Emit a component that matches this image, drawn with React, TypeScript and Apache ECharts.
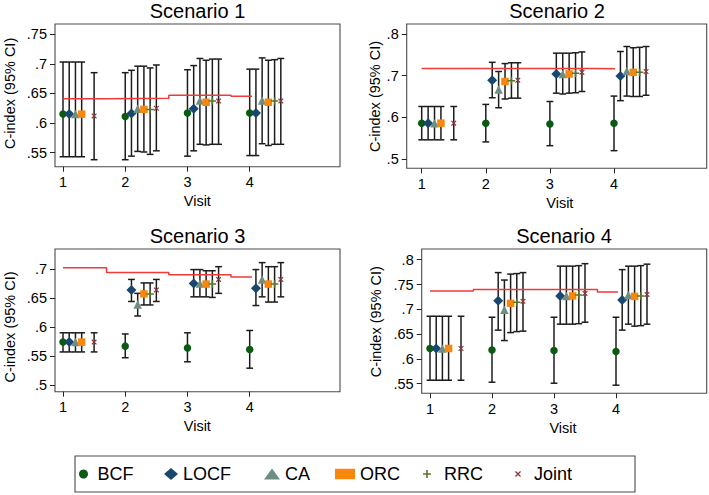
import React, { useEffect, useRef } from "react";
import * as echarts from "echarts";

const FONT = '"Liberation Sans", Arial, Helvetica, sans-serif';

const visits = [1, 2, 3, 4];
const methods = ["BCF", "LOCF", "CA", "ORC", "RRC", "Joint"];
const methodShift = [0, 0.1, 0.2, 0.3, 0.4, 0.5];
const titles = ["Scenario 1", "Scenario 2", "Scenario 3", "Scenario 4"];

// Scenario 1 (rows = methods, cols = visits)
const s1Est = [
  [0.615, 0.611, 0.617, 0.617],
  [0.615, 0.616, 0.624, 0.617],
  [0.615, 0.624, 0.638, 0.638],
  [0.615, 0.623, 0.635, 0.635],
  [null, 0.623, 0.637, 0.637],
  [0.612, 0.625, 0.637, 0.637],
];
const s1Lo = [
  [0.543, 0.538, 0.544, 0.545],
  [0.543, 0.544, 0.553, 0.545],
  [0.543, 0.552, 0.564, 0.565],
  [0.543, 0.551, 0.563, 0.562],
  [null, 0.547, 0.564, 0.564],
  [0.538, 0.553, 0.564, 0.564],
];
const s1Hi = [
  [0.703, 0.685, 0.690, 0.691],
  [0.703, 0.689, 0.697, 0.691],
  [0.703, 0.696, 0.709, 0.710],
  [0.703, 0.696, 0.706, 0.706],
  [null, 0.693, 0.708, 0.707],
  [0.685, 0.698, 0.708, 0.709],
];
const s1Ref = [0.641, 0.642, 0.647, 0.645];
const s1Ticks = [0.55, 0.6, 0.65, 0.7, 0.75];

// Scenario 2
const s2Est = [
  [0.586, 0.586, 0.584, 0.586],
  [0.586, 0.689, 0.704, 0.699],
  [0.586, 0.667, 0.704, 0.711],
  [0.586, 0.686, 0.704, 0.708],
  [null, 0.688, 0.706, 0.708],
  [0.586, 0.689, 0.708, 0.710],
];
const s2Lo = [
  [0.546, 0.541, 0.532, 0.520],
  [0.546, 0.647, 0.658, 0.640],
  [0.546, 0.623, 0.656, 0.651],
  [0.546, 0.644, 0.658, 0.650],
  [null, 0.646, 0.659, 0.650],
  [0.546, 0.646, 0.662, 0.653],
];
const s2Hi = [
  [0.626, 0.631, 0.638, 0.651],
  [0.626, 0.732, 0.754, 0.758],
  [0.626, 0.710, 0.754, 0.770],
  [0.626, 0.729, 0.754, 0.767],
  [null, 0.731, 0.755, 0.768],
  [0.626, 0.731, 0.757, 0.770],
];
const s2Ref = [0.717, 0.717, 0.717, 0.716];
const s2Ticks = [0.5, 0.6, 0.7, 0.8];

// Scenario 3
const s3Est = [
  [0.574, 0.567, 0.564, 0.561],
  [0.574, 0.664, 0.675, 0.667],
  [0.574, 0.639, 0.675, 0.682],
  [0.574, 0.657, 0.674, 0.674],
  [null, 0.657, 0.674, 0.674],
  [0.574, 0.664, 0.682, 0.682],
];
const s3Lo = [
  [0.557, 0.547, 0.540, 0.529],
  [0.557, 0.644, 0.652, 0.637],
  [0.557, 0.619, 0.652, 0.652],
  [0.557, 0.638, 0.652, 0.643],
  [null, 0.638, 0.651, 0.643],
  [0.557, 0.644, 0.658, 0.652],
];
const s3Hi = [
  [0.590, 0.588, 0.590, 0.594],
  [0.590, 0.682, 0.699, 0.699],
  [0.590, 0.658, 0.699, 0.711],
  [0.590, 0.676, 0.697, 0.704],
  [null, 0.676, 0.697, 0.704],
  [0.590, 0.682, 0.704, 0.711],
];
const s3Ref = [0.702, 0.694, 0.690, 0.686];
const s3Ticks = [0.5, 0.55, 0.6, 0.65, 0.7];

// Scenario 4
const s4Est = [
  [0.621, 0.618, 0.617, 0.615],
  [0.621, 0.717, 0.727, 0.719],
  [0.621, 0.699, 0.727, 0.729],
  [0.621, 0.712, 0.727, 0.726],
  [null, 0.714, 0.729, 0.727],
  [0.621, 0.716, 0.732, 0.730],
];
const s4Lo = [
  [0.557, 0.553, 0.551, 0.547],
  [0.557, 0.658, 0.670, 0.658],
  [0.557, 0.637, 0.670, 0.670],
  [0.557, 0.653, 0.670, 0.666],
  [null, 0.655, 0.671, 0.667],
  [0.557, 0.656, 0.674, 0.670],
];
const s4Hi = [
  [0.686, 0.684, 0.684, 0.684],
  [0.686, 0.774, 0.787, 0.780],
  [0.686, 0.759, 0.787, 0.787],
  [0.686, 0.771, 0.787, 0.787],
  [null, 0.772, 0.788, 0.788],
  [0.686, 0.774, 0.792, 0.791],
];
const s4Ref = [0.737, 0.740, 0.740, 0.735];
const s4Ticks = [0.55, 0.6, 0.65, 0.7, 0.75, 0.8];

const scenarios = [
  { est: s1Est, lo: s1Lo, hi: s1Hi, ref: s1Ref, ticks: s1Ticks },
  { est: s2Est, lo: s2Lo, hi: s2Hi, ref: s2Ref, ticks: s2Ticks },
  { est: s3Est, lo: s3Lo, hi: s3Hi, ref: s3Ref, ticks: s3Ticks },
  { est: s4Est, lo: s4Lo, hi: s4Hi, ref: s4Ref, ticks: s4Ticks },
];

// layout (pixels)
const layouts = [
  { frame: [55, 24, 340, 166.7], grid: [63, 34.2, 186.7, 118.4], titleX: 197.5, titleY: 11, yGap: 38, xShift: 41 },
  { frame: [406.7, 24, 706.7, 168.3], grid: [421.7, 34, 192.3, 125], titleX: 557, titleY: 11, yGap: 23, xShift: 42 },
  { frame: [55, 249, 340, 391.7], grid: [63, 269, 186.7, 116], titleX: 197.5, titleY: 236, yGap: 38, xShift: 41 },
  { frame: [421.7, 249, 706.7, 393.3], grid: [430, 259.7, 186, 124], titleX: 564, titleY: 236, yGap: 38, xShift: 40 },
];

const PLUS = "path://M4,0H6V4H10V6H6V10H4V6H0V4H4Z";
const CROSS =
  "path://M0,1.5L1.5,0L5,3.5L8.5,0L10,1.5L6.5,5L10,8.5L8.5,10L5,6.5L1.5,10L0,8.5L3.5,5Z";

const styles = [
  { color: "#0b5a14", symbol: "circle", size: 7.5, legendSize: 9, legendW: 18, legendX: 79 },
  { color: "#1a476f", symbol: "diamond", size: 10, legendSize: 12, legendW: 14, legendX: 164 },
  { color: "#6e8e84", symbol: "triangle", size: 8.5, legendSize: 11, legendW: 16, legendX: 264 },
  { color: "#f8870e", symbol: "rect", size: 7.5, legendSize: 10.5, legendW: 20, legendX: 335 },
  { color: "#55752f", symbol: PLUS, size: 7.5, legendSize: 8, legendW: 24, legendX: 423 },
  { color: "#90353b", symbol: CROSS, size: 5.5, legendSize: 6, legendW: 22, legendX: 515 },
];

const fmt = (v: number) => {
  const s = String(Number(v.toFixed(2)));
  return s.replace(/^0\./, ".");
};

function buildOption() {
  const grid: any[] = [];
  const xAxis: any[] = [];
  const yAxis: any[] = [];
  const series: any[] = [];
  const graphic: any[] = [];

  scenarios.forEach((sc, p) => {
    const L = layouts[p];
    const [gl, gt, gw, gh] = L.grid;
    const [fl, ft, fr, fb] = L.frame;
    grid.push({ left: gl, top: gt, width: gw, height: gh, containLabel: false });
    xAxis.push({
      type: "value",
      gridIndex: p,
      min: visits[0],
      max: visits[visits.length - 1],
      interval: 1,
      offset: fb - (gt + gh),
      axisLine: { show: false },
      axisTick: { show: true, length: 5, lineStyle: { color: "#222", width: 1 } },
      axisLabel: { fontSize: 14.5, color: "#000", fontFamily: FONT, margin: 8 },
      splitLine: { show: false },
      name: "Visit",
      nameLocation: "middle",
      nameGap: 27,
      nameTextStyle: {
        fontSize: 14.5,
        color: "#000",
        fontFamily: FONT,
        padding: [0, 0, 0, 2 * L.xShift],
      },
    });
    const t = sc.ticks;
    yAxis.push({
      type: "value",
      gridIndex: p,
      min: t[0],
      max: t[t.length - 1],
      interval: Number((t[1] - t[0]).toFixed(3)),
      offset: gl - fl,
      axisLine: { show: false },
      axisTick: { show: true, length: 5, lineStyle: { color: "#222", width: 1 } },
      axisLabel: { fontSize: 14.5, color: "#000", fontFamily: FONT, margin: 8, formatter: fmt },
      splitLine: { show: false },
      name: "C-index (95% CI)",
      nameLocation: "middle",
      nameRotate: 90,
      nameGap: L.yGap,
      nameTextStyle: { fontSize: 14.5, color: "#000", fontFamily: FONT },
    });

    // frame
    graphic.push({
      type: "rect",
      silent: true,
      z: 0,
      shape: { x: fl, y: ft, width: fr - fl, height: fb - ft },
      style: { fill: "#fff", stroke: "#4a4a4a", lineWidth: 1.1 },
    });
    graphic.push({
      type: "text",
      silent: true,
      x: L.titleX,
      y: L.titleY,
      style: {
        text: titles[p],
        fontSize: 20,
        fontFamily: FONT,
        fill: "#000",
        textAlign: "center",
        textVerticalAlign: "middle",
      },
    });

    // error bars
    const ciData: number[][] = [];
    methods.forEach((m, mi) => {
      visits.forEach((v, vi) => {
        const lo = sc.lo[mi][vi];
        const hi = sc.hi[mi][vi];
        if (lo == null || hi == null) return;
        ciData.push([v + methodShift[mi], lo, hi]);
      });
    });
    series.push({
      name: "ci" + p,
      type: "custom",
      xAxisIndex: p,
      yAxisIndex: p,
      clip: false,
      z: 2,
      silent: true,
      encode: { x: 0, y: [1, 2] },
      data: ciData,
      renderItem: (params: any, api: any) => {
        const x = api.value(0);
        const lo = api.value(1);
        const hi = api.value(2);
        const a = api.coord([x, lo]);
        const b = api.coord([x, hi]);
        const cw = 3.4;
        const st = { stroke: "#1c1c1c", lineWidth: 1.5 };
        return {
          type: "group",
          children: [
            { type: "line", shape: { x1: a[0], y1: a[1], x2: b[0], y2: b[1] }, style: st },
            { type: "line", shape: { x1: b[0] - cw, y1: b[1], x2: b[0] + cw, y2: b[1] }, style: st },
            { type: "line", shape: { x1: a[0] - cw, y1: a[1], x2: a[0] + cw, y2: a[1] }, style: st },
          ],
        };
      },
    });

    // reference step line
    const refData: number[][] = sc.ref.map((r, i) => [i === 0 ? visits[0] : visits[i - 1] + 0.7, r]);
    refData.push([visits[visits.length - 1] + 0.7, sc.ref[sc.ref.length - 1]]);
    series.push({
      name: "ref" + p,
      type: "line",
      xAxisIndex: p,
      yAxisIndex: p,
      step: "end",
      clip: false,
      z: 3,
      silent: true,
      showSymbol: false,
      symbol: "none",
      lineStyle: { color: "#f03a3a", width: 1.5 },
      data: refData,
    });

    // markers
    methods.forEach((m, mi) => {
      const st = styles[mi];
      const data: number[][] = [];
      visits.forEach((v, vi) => {
        const e = sc.est[mi][vi];
        if (e == null) return;
        data.push([v + methodShift[mi], e]);
      });
      series.push({
        name: m,
        type: "scatter",
        xAxisIndex: p,
        yAxisIndex: p,
        clip: false,
        z: 4,
        symbol: st.symbol,
        symbolSize: st.size,
        itemStyle: { color: st.color, opacity: 1 },
        data,
      });
    });
  });

  // legend frame
  graphic.push({
    type: "rect",
    silent: true,
    z: 0,
    shape: { x: 75, y: 456, width: 560, height: 36 },
    style: { fill: "#fff", stroke: "#4a4a4a", lineWidth: 1.1 },
  });

  const legend = methods.map((m, mi) => {
    const st = styles[mi];
    return {
      show: true,
      left: st.legendX,
      top: 465,
      padding: 0,
      itemWidth: st.legendW,
      itemHeight: st.legendSize,
      selectedMode: false,
      data: [{ name: m, icon: st.symbol }],
      textStyle: { fontSize: 18, color: "#000", fontFamily: FONT, lineHeight: 18 },
    };
  });

  return {
    animation: false,
    backgroundColor: "#fff",
    grid,
    xAxis,
    yAxis,
    series,
    graphic,
    legend,
  };
}

export default function App() {
  const ref = useRef<HTMLDivElement>(null);
  useEffect(() => {
    if (!ref.current) return;
    const chart = echarts.init(ref.current, undefined, { renderer: "svg" });
    chart.setOption(buildOption() as any);
    return () => chart.dispose();
  }, []);
  return (
    <div
      ref={ref}
      style={{ position: "fixed", left: 0, top: 0, width: 709, height: 495, background: "#fff" }}
    />
  );
}
